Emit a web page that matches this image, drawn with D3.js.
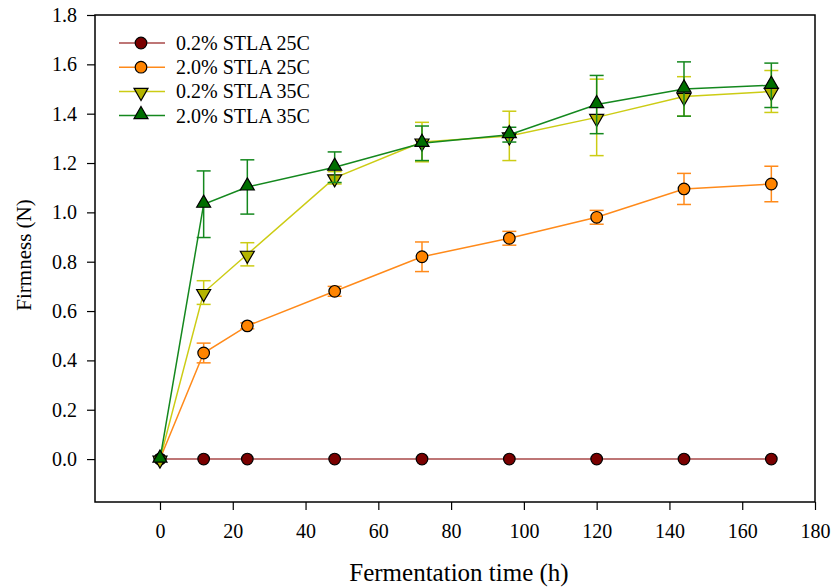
<!DOCTYPE html>
<html>
<head>
<meta charset="utf-8">
<script src="https://cdn.jsdelivr.net/npm/d3@7"></script>
<style>
  html, body { margin: 0; padding: 0; background: #fff; }
  svg text { font-family: "Liberation Serif", "Times New Roman", serif; fill: #000; }
</style>
</head>
<body>
<svg id="chart" width="832" height="588"></svg>
<script>
// Fermentation time (h)
const times = [0, 12, 24, 48, 72, 96, 120, 144, 168];

// Firmness means (N) and standard deviations for each treatment
const stla02_25 = [0, 0, 0, 0, 0, 0, 0, 0, 0];
const stla02_25Err = [0, 0, 0, 0, 0, 0, 0, 0, 0];
const stla20_25 = [0, 0.43, 0.54, 0.68, 0.82, 0.895, 0.98, 1.095, 1.115];
const stla20_25Err = [0, 0.04, 0.012, 0.02, 0.06, 0.028, 0.028, 0.063, 0.072];
const stla02_35 = [0, 0.675, 0.83, 1.14, 1.285, 1.31, 1.385, 1.47, 1.49];
const stla02_35Err = [0, 0.048, 0.047, 0.025, 0.08, 0.10, 0.155, 0.08, 0.085];
const stla20_35 = [0, 1.033, 1.103, 1.183, 1.28, 1.315, 1.437, 1.50, 1.515];
const stla20_35Err = [0, 0.135, 0.11, 0.062, 0.07, 0.03, 0.118, 0.11, 0.09];

const seriesNames = ["0.2% STLA 25C", "2.0% STLA 25C", "0.2% STLA 35C", "2.0% STLA 35C"];
const xTicks = [0, 20, 40, 60, 80, 100, 120, 140, 160, 180];
const yTicks = [0, 0.2, 0.4, 0.6, 0.8, 1.0, 1.2, 1.4, 1.6, 1.8];

const series = [
  { name: seriesNames[0], values: stla02_25, errs: stla02_25Err, line: "#a84848", err: "#a84848", fill: "#7a0000", shape: "circle" },
  { name: seriesNames[1], values: stla20_25, errs: stla20_25Err, line: "#ff8a1a", err: "#ff8a1a", fill: "#ff8400", shape: "circle" },
  { name: seriesNames[2], values: stla02_35, errs: stla02_35Err, line: "#cccc14", err: "#cccc14", fill: "#b4b400", shape: "down" },
  { name: seriesNames[3], values: stla20_35, errs: stla20_35Err, line: "#14881e", err: "#14881e", fill: "#006e00", shape: "up" }
];

const svg = d3.select("#chart");
const plotLeft = 95, plotRight = 815, plotTop = 15, plotBottom = 502;

const x = d3.scaleLinear().domain([-17.86, 180]).range([plotLeft, plotRight]);
const y = d3.scaleLinear().domain([-0.174, 1.8]).range([plotBottom, plotTop]);

// frame
svg.append("rect")
  .attr("x", plotLeft).attr("y", plotTop)
  .attr("width", plotRight - plotLeft).attr("height", plotBottom - plotTop)
  .attr("fill", "none").attr("stroke", "#000").attr("stroke-width", 1.5);

// axes
const xAxis = svg.append("g")
  .attr("transform", `translate(0,${plotBottom})`)
  .call(d3.axisBottom(x).tickValues(xTicks).tickFormat(d3.format("d")).tickSize(8).tickPadding(14));
const yAxis = svg.append("g")
  .attr("transform", `translate(${plotLeft},0)`)
  .call(d3.axisLeft(y).tickValues(yTicks).tickFormat(d3.format(".1f")).tickSize(8).tickPadding(10));
[xAxis, yAxis].forEach(g => {
  g.select(".domain").remove();
  g.selectAll(".tick line").attr("stroke", "#000").attr("stroke-width", 1.2);
  g.selectAll(".tick text").style("font-family", "Liberation Serif, serif").style("font-size", "20px").attr("fill", "#000");
});

// axis titles
svg.append("text")
  .attr("x", 459).attr("y", 581)
  .attr("text-anchor", "middle").style("font-size", "25px")
  .text("Fermentation time (h)");
svg.append("text")
  .attr("transform", "translate(31,255) rotate(-90)")
  .attr("text-anchor", "middle").style("font-size", "21px")
  .text("Firmness (N)");

const symbolFor = shape => {
  if (shape === "circle") return d3.symbol().type(d3.symbolCircle).size(Math.PI * 5.8 * 5.8)();
  return d3.symbol().type(d3.symbolTriangle).size(85)();
};

function drawMarker(g, s, cx, cy) {
  const p = g.append("path")
    .attr("d", symbolFor(s.shape))
    .attr("fill", s.fill).attr("stroke", "#000").attr("stroke-width", 1.2);
  const rot = s.shape === "down" ? " rotate(180)" : "";
  const dy = s.shape === "up" ? -1 : (s.shape === "down" ? 1 : 0);
  p.attr("transform", `translate(${cx},${cy + dy})${rot}`);
}

const line = d3.line().x(d => x(d[0])).y(d => y(d[1]));
const capHalf = 7;

series.forEach(s => {
  const g = svg.append("g");
  const pts = times.map((t, i) => [t, s.values[i], s.errs[i]]);
  // error bars
  pts.filter(d => d[2] > 0).forEach(d => {
    const cx = x(d[0]), y1 = y(d[1] + d[2]), y2 = y(d[1] - d[2]);
    g.append("line").attr("x1", cx).attr("x2", cx).attr("y1", y1).attr("y2", y2)
      .attr("stroke", s.err).attr("stroke-width", 1.5);
    [y1, y2].forEach(yy => g.append("line")
      .attr("x1", cx - capHalf).attr("x2", cx + capHalf).attr("y1", yy).attr("y2", yy)
      .attr("stroke", s.err).attr("stroke-width", 1.5));
  });
  g.append("path").datum(pts).attr("d", line)
    .attr("fill", "none").attr("stroke", s.line).attr("stroke-width", 1.5);
  pts.forEach(d => drawMarker(g, s, x(d[0]), y(d[1])));
});

// legend
const legend = svg.append("g");
series.forEach((s, i) => {
  const ly = 43 + i * 24.2;
  legend.append("line").attr("x1", 119).attr("x2", 165).attr("y1", ly).attr("y2", ly)
    .attr("stroke", s.line).attr("stroke-width", 1.5);
  drawMarker(legend, s, 141, ly);
  legend.append("text").attr("x", 176).attr("y", ly + 7)
    .style("font-size", "20px").text(s.name);
});
</script>
</body>
</html>
